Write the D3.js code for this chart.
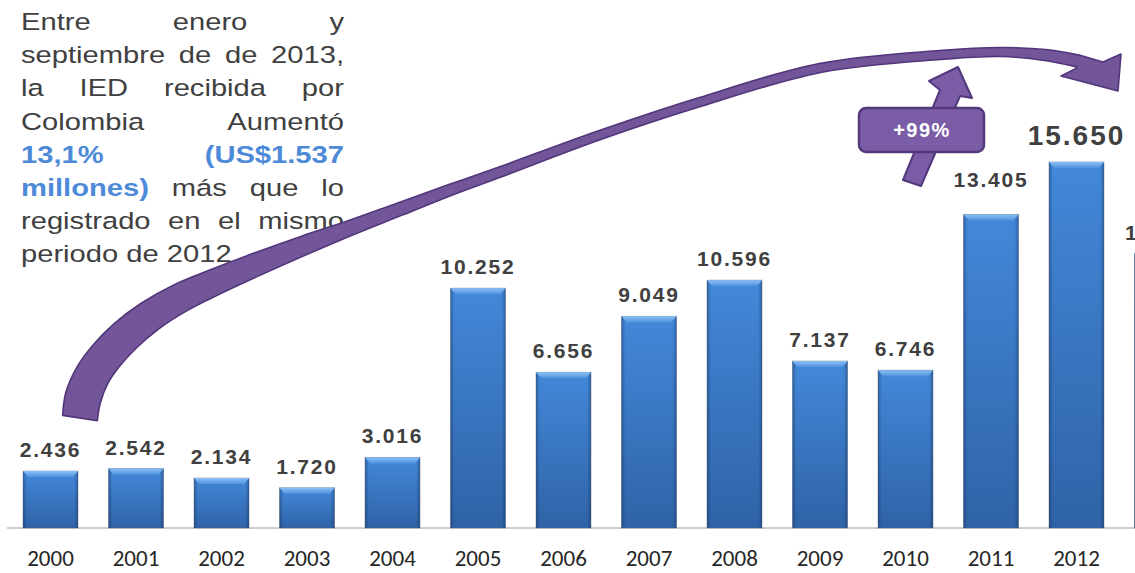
<!DOCTYPE html>
<html>
<head>
<meta charset="utf-8">
<script src="https://cdn.jsdelivr.net/npm/d3@7"></script>
<style>
  body { margin: 0; background: #fff; }
  svg { display: block; overflow: hidden; }
</style>
</head>
<body>
<svg id="chart" width="1135" height="573"></svg>
<script>
// IED recibida por Colombia (millones de US$)
var years = ['2000', '2001', '2002', '2003', '2004', '2005', '2006', '2007', '2008', '2009', '2010', '2011', '2012', '2013'];
var ied = [2436, 2542, 2134, 1720, 3016, 10252, 6656, 9049, 10596, 7137, 6746, 13405, 15650, 11733];

var noteLines = [
	'Entre enero y',
	'septiembre de de 2013,',
	'la IED recibida por',
	'Colombia Aumentó',
	'13,1% (US$1.537',
	'millones) más que lo',
	'registrado en el mismo',
	'periodo de 2012'
];
var noteHighlight = ['13,1%', '(US$1.537', 'millones)'];
var badgeText = '+99%';

var width = 1135, height = 573;
var baseY = 528;

var svg = d3.select('#chart');
var defs = svg.append('defs');

var g1 = defs.append('linearGradient').attr('id', 'barBody').attr('x1', 0).attr('y1', 0).attr('x2', 0).attr('y2', 1);
g1.append('stop').attr('offset', '0%').attr('stop-color', '#4388d9');
g1.append('stop').attr('offset', '100%').attr('stop-color', '#2f63a7');

var g2 = defs.append('linearGradient').attr('id', 'barSide').attr('x1', 0).attr('y1', 0).attr('x2', 1).attr('y2', 0);
g2.append('stop').attr('offset', '0%').attr('stop-color', '#0a1f45').attr('stop-opacity', 0.35);
g2.append('stop').attr('offset', '7%').attr('stop-color', '#0a1f45').attr('stop-opacity', 0);
g2.append('stop').attr('offset', '93%').attr('stop-color', '#0a1f45').attr('stop-opacity', 0);
g2.append('stop').attr('offset', '100%').attr('stop-color', '#0a1f45').attr('stop-opacity', 0.35);

var g3 = defs.append('linearGradient').attr('id', 'barTop').attr('x1', 0).attr('y1', 0).attr('x2', 0).attr('y2', 1);
g3.append('stop').attr('offset', '0%').attr('stop-color', '#8cc0f5');
g3.append('stop').attr('offset', '100%').attr('stop-color', '#4f92e0');

var x = d3.scaleBand().domain(years).range([-7.5, 1220]).padding(0.357);
var y = d3.scaleLinear().domain([0, 16000]).range([baseY, 153.8]);

var es = d3.formatLocale({ decimal: ',', thousands: '.', grouping: [3], currency: ['US$', ''] });
var fmt = es.format(',d');

var data = years.map(function(yr, i) { return { year: yr, value: ied[i] }; });

// axis (only the years whose slot is inside the picture get a label)
svg.append('line')
	.attr('x1', 7).attr('x2', width)
	.attr('y1', baseY).attr('y2', baseY)
	.attr('stroke', '#bfbfbf').attr('stroke-width', 1.5);

var shownYears = years.filter(function(yr) { return x(yr) + x.bandwidth() < width; });
var xAxis = svg.append('g')
	.attr('transform', 'translate(0,' + baseY + ')')
	.call(d3.axisBottom(x).tickValues(shownYears).tickSize(0).tickPadding(22));
xAxis.select('.domain').remove();
xAxis.selectAll('text')
	.attr('font-family', 'Carlito, Calibri, "Liberation Sans", Arial, sans-serif')
	.attr('font-size', 23)
	.attr('fill', '#262626');

// bars
var bars = svg.append('g').selectAll('g.bar').data(data).enter().append('g').attr('class', 'bar');

bars.append('rect')
	.attr('x', function(d) { return x(d.year); })
	.attr('y', function(d) { return y(d.value); })
	.attr('width', x.bandwidth())
	.attr('height', function(d) { return baseY - y(d.value); })
	.attr('fill', 'url(#barBody)')
	.attr('stroke', 'rgba(90,100,120,0.45)')
	.attr('stroke-width', 1);

bars.append('rect')
	.attr('x', function(d) { return x(d.year); })
	.attr('y', function(d) { return y(d.value); })
	.attr('width', x.bandwidth())
	.attr('height', function(d) { return baseY - y(d.value); })
	.attr('fill', 'url(#barSide)');

bars.append('polygon')
	.attr('points', function(d) {
		var x0 = x(d.year), x1 = x0 + x.bandwidth(), t = y(d.value);
		return [[x0, t], [x1, t], [x1 - 5, t + 6], [x0 + 5, t + 6]].join(' ');
	})
	.attr('fill', 'url(#barTop)');

// value labels
svg.append('g').selectAll('text').data(data).enter().append('text')
	.attr('x', function(d) { return x(d.year) + x.bandwidth() / 2; })
	.attr('y', function(d) {
		var gap = d.year == '2012' ? 17 : (d.year == '2011' ? 27 : 14);
		return y(d.value) - gap;
	})
	.attr('text-anchor', 'middle')
	.attr('font-family', '"Liberation Sans", Arial, sans-serif')
	.attr('font-weight', 'bold')
	.attr('font-size', function(d) { return d.year == '2012' ? 28 : 21; })
	.attr('letter-spacing', function(d) { return d.year == '2012' ? 2 : 1.8; })
	.attr('fill', '#404040')
	.text(function(d) { return fmt(d.value); });

// justified note (text is a bit stretched horizontally in the original)
var stretch = 1.24;
var noteLeft = 21, noteRight = 344;
var noteW = (noteRight - noteLeft) / stretch;
var note = svg.append('g')
	.attr('transform', 'translate(' + noteLeft + ',0) scale(' + stretch + ',1)')
	.attr('font-family', '"Liberation Sans", Arial, sans-serif')
	.attr('font-size', 23.5);

noteLines.forEach(function(line, li) {
	var by = 30 + li * 33.2;
	var words = line.split(' ');
	var last = li == noteLines.length - 1;
	if (last) {
		note.append('text').attr('x', 0).attr('y', by).attr('fill', '#404040').text(line);
		return;
	}
	var nodes = words.map(function(w) {
		var hl = noteHighlight.indexOf(w) >= 0;
		return note.append('text')
			.attr('y', by)
			.attr('fill', hl ? '#4d8ad8' : '#404040')
			.attr('font-weight', hl ? 'bold' : 'normal')
			.text(w);
	});
	var widths = nodes.map(function(n) { return n.node().getComputedTextLength(); });
	var total = d3.sum(widths);
	var gap = (noteW - total) / (words.length - 1);
	var cx = 0;
	nodes.forEach(function(n, i) {
		n.attr('x', cx);
		cx += widths[i] + gap;
	});
});

// big curved arrow: centre line [x, y, thickness], edges are offset from it
var spine = [
	[80, 418, 35], [83, 398, 36], [92, 376, 35], [106, 356, 34], [125, 336, 33], [150, 316, 31],
	[180, 298, 29], [215, 282, 26], [255, 265, 23], [305, 245, 19], [350, 228, 15], [400, 209, 13],
	[450, 190, 11], [500, 172, 10], [600, 135, 9], [700, 102, 9], [820, 68, 9], [940, 55, 9],
	[1000, 52, 9], [1045, 55, 11], [1078, 61, 12]
];
var outer = [], inner = [];
spine.forEach(function(p, i) {
	var a = spine[Math.max(0, i - 1)], b = spine[Math.min(spine.length - 1, i + 1)];
	var tx = b[0] - a[0], ty = b[1] - a[1], len = Math.sqrt(tx * tx + ty * ty);
	tx /= len; ty /= len;
	var h = p[2] / 2;
	outer.push([p[0] + ty * h, p[1] - tx * h]);
	inner.push([p[0] - ty * h, p[1] + tx * h]);
});
inner.reverse();
var head = [[1103, 62], [1121, 54], [1118, 91], [1061, 76], [1075, 69]];

var edge = d3.line().curve(d3.curveCatmullRom.alpha(0.5));
var arrowD = edge(outer) + head.map(function(p) { return 'L' + p[0] + ',' + p[1]; }).join('') + 'L' + edge(inner).slice(1) + 'Z';

// small straight arrow + badge
var smallArrow = [[903, 180], [940, 90], [929, 81], [958, 67], [972, 98], [960, 96], [921, 186]];
svg.append('polygon')
	.attr('points', smallArrow.join(' '))
	.attr('fill', '#7a5ca7')
	.attr('stroke', '#54387c')
	.attr('stroke-width', 2)
	.attr('stroke-linejoin', 'round');

svg.append('path')
	.attr('d', arrowD)
	.attr('fill', '#735599')
	.attr('stroke', '#52367a')
	.attr('stroke-width', 1.6)
	.attr('stroke-linejoin', 'round');

svg.append('rect')
	.attr('x', 859).attr('y', 108)
	.attr('width', 125).attr('height', 44)
	.attr('rx', 7)
	.attr('fill', '#7a5ca7')
	.attr('stroke', '#55397d')
	.attr('stroke-width', 2.5);

svg.append('text')
	.attr('x', 922).attr('y', 137)
	.attr('text-anchor', 'middle')
	.attr('font-family', '"Liberation Sans", Arial, sans-serif')
	.attr('font-weight', 'bold')
	.attr('font-size', 20)
	.attr('letter-spacing', 1.5)
	.attr('fill', '#ffffff')
	.text(badgeText);
</script>
</body>
</html>
